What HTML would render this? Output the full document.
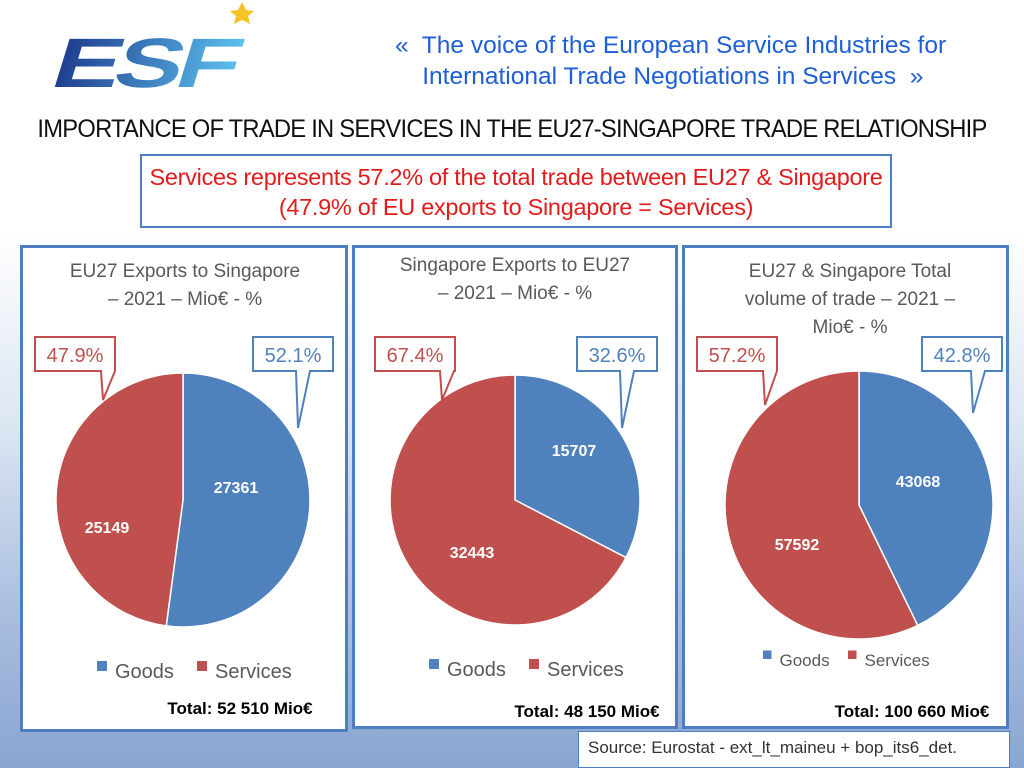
<!DOCTYPE html>
<html><head><meta charset="utf-8"><style>
body{margin:0;width:1024px;height:768px;overflow:hidden;font-family:"Liberation Sans",sans-serif;
background:linear-gradient(180deg,#fff 0%,#fff 30%,#dde6f3 55%,#a9bedf 80%,#8aa5d2 100%);position:relative}
.abs{position:absolute}
.panel{position:absolute;background:#fff;border:3px solid #4f7ec0;box-sizing:border-box}
.t{font-family:"Liberation Sans",sans-serif;color:#595959;font-size:19px;text-align:center;line-height:28px}
</style></head><body>
<svg class="abs" style="left:0;top:0" width="1024" height="768">
<defs><linearGradient id="lg" x1="0" x2="1"><stop offset="0" stop-color="#1d3a8c"/><stop offset="1" stop-color="#5cc0ee"/></linearGradient></defs>
<text x="0" y="0" transform="translate(48,87) scale(1.45,1) skewX(-12)" font-family="Liberation Sans" font-weight="bold" font-size="70" letter-spacing="-4" fill="url(#lg)">ESF</text>
<polygon points="242,2 246,10 254,11 248,16 250,24 242,20 234,24 236,16 230,11 238,10" fill="#f5c324"/>
</svg>
<div class="abs" style="left:395px;top:30px;font-size:24.5px;color:#1f5fd6;line-height:31px;white-space:nowrap">«&nbsp; The voice of the European Service Industries for<br>&nbsp;&nbsp;&nbsp;&nbsp;International Trade Negotiations in Services&nbsp; »</div>
<div class="abs" style="left:0;width:1024px;top:115px;text-align:center;font-size:25px;color:#111;letter-spacing:-0.8px;transform:scaleX(0.95);white-space:nowrap">IMPORTANCE OF TRADE IN SERVICES IN THE EU27-SINGAPORE TRADE RELATIONSHIP</div>
<div class="abs" style="left:140px;top:154px;width:752px;height:74px;box-sizing:border-box;border:2px solid #4f7ec0;background:#fff;color:#e11c1c;font-size:23.5px;text-align:center;line-height:30px;padding-top:6px;white-space:nowrap;letter-spacing:-0.3px">Services represents 57.2% of the total trade between EU27 &amp; Singapore<br>(47.9% of EU exports to Singapore = Services)</div>
<div class="panel" style="left:20px;top:245px;width:328px;height:487px"></div>
<div class="panel" style="left:352px;top:245px;width:326px;height:484px"></div>
<div class="panel" style="left:682px;top:245px;width:327px;height:484px"></div>
<div class="abs t" style="left:40px;width:290px;top:258px">EU27 Exports to Singapore<br>– 2021 – Mio€ - %</div>
<div class="abs t" style="left:370px;width:290px;top:252px">Singapore Exports to EU27<br>– 2021 – Mio€ - %</div>
<div class="abs t" style="left:705px;width:290px;top:258px">EU27 &amp; Singapore Total<br>volume of trade – 2021 –<br>Mio€ - %</div>
<div class="abs" style="left:578px;top:731px;width:432px;height:37px;background:#fff;border:1px solid #4f7ec0;box-sizing:border-box;font-size:17px;color:#333;padding:6px 0 0 9px">Source: Eurostat - ext_lt_maineu + bop_its6_det.</div>
<svg id="ch" class="abs" style="left:0;top:0" width="1024" height="768"></svg>
<script>
const chartNames=["eu-exports","sg-exports","total"];
const goods=[27361,15707,43068];
const services=[25149,32443,57592];
const totals=["Total: 52 510 Mio€","Total: 48 150 Mio€","Total: 100 660 Mio€"];
const cfg=[
 {cx:183,cy:500,r:127,lgY:673,lgX:97,lgF:20,totX:240,totY:714,red:[35,337,103,400],blue:[253,337,298,428],gl:[236,493],sl:[107,533]},
 {cx:515,cy:500,r:125,lgY:671,lgX:429,lgF:20,totX:587,totY:717,red:[375,337,442,400],blue:[577,337,622,428],gl:[574,456],sl:[472,558]},
 {cx:859,cy:505,r:134,lgY:661,lgX:763,lgF:17,totX:912,totY:717,red:[697,337,765,405],blue:[922,337,973,413],gl:[918,487],sl:[797,550]}];
const svg=document.getElementById('ch');const NS="http://www.w3.org/2000/svg";
function mk(t,a,p){const e=document.createElementNS(NS,t);for(const k in a)e.setAttribute(k,a[k]);(p||svg).appendChild(e);return e;}
function pt(c,f){const a=f*2*Math.PI;return [c.cx+c.r*Math.sin(a),c.cy-c.r*Math.cos(a)];}
function arc(c,f0,f1){const p0=pt(c,f0),p1=pt(c,f1);const l=(f1-f0)>0.5?1:0;return `M${c.cx},${c.cy}L${p0[0]},${p0[1]}A${c.r},${c.r} 0 ${l} 1 ${p1[0]},${p1[1]}Z`;}
function callout(b,txt,col,name){const [x,y,tx,ty]=b;const w=80,h=34;
 const p=mk('path',{d:`M${x},${y}H${x+w}V${y+h}H${tx+12}L${tx},${ty}L${tx-2},${y+h}H${x}Z`,fill:'#fff',stroke:col,'stroke-width':2});
 
 
 const t=mk('text',{x:x+w/2,y:y+25,'text-anchor':'middle','font-size':20,fill:col,'font-family':'Liberation Sans'});t.textContent=txt;
 
 }
cfg.forEach((c,i)=>{const tot=goods[i]+services[i];const fg=goods[i]/tot;
 const g=mk('path',{d:arc(c,0,fg),fill:'#4f81bd',stroke:'#fff','stroke-width':1.5});
 
 
 const s=mk('path',{d:arc(c,fg,1),fill:'#c0504d',stroke:'#fff','stroke-width':1.5});
 
 
 const lg=mk('text',{x:c.gl[0],y:c.gl[1],'text-anchor':'middle','font-size':16,'font-weight':'bold',fill:'#fff'});lg.textContent=goods[i];
 
 
 const ls=mk('text',{x:c.sl[0],y:c.sl[1],'text-anchor':'middle','font-size':16,'font-weight':'bold',fill:'#fff'});ls.textContent=services[i];
 
 
 callout(c.red,(100*(1-fg)).toFixed(1)+'%','#c0504d',chartNames[i]+'-services');
 callout(c.blue,(100*fg).toFixed(1)+'%','#4f81bd',chartNames[i]+'-goods');
 const sq=c.lgF*0.5;
 const r1=mk('rect',{x:c.lgX,y:c.lgY-sq-2,width:sq,height:sq,fill:'#4f81bd'});
 
 
 const t1=mk('text',{x:c.lgX+sq+8,y:c.lgY+5,'font-size':c.lgF,fill:'#595959'});t1.textContent='Goods';
 
 
 const off=c.lgF*5;
 const r2=mk('rect',{x:c.lgX+off,y:c.lgY-sq-2,width:sq,height:sq,fill:'#c0504d'});
 
 
 const t2=mk('text',{x:c.lgX+off+sq+8,y:c.lgY+5,'font-size':c.lgF,fill:'#595959'});t2.textContent='Services';
 
 
 const tt=mk('text',{x:c.totX,y:c.totY,'text-anchor':'middle','font-size':17,'font-weight':'bold',fill:'#000'});tt.textContent=totals[i];
 
 
});
</script>
</body></html>
